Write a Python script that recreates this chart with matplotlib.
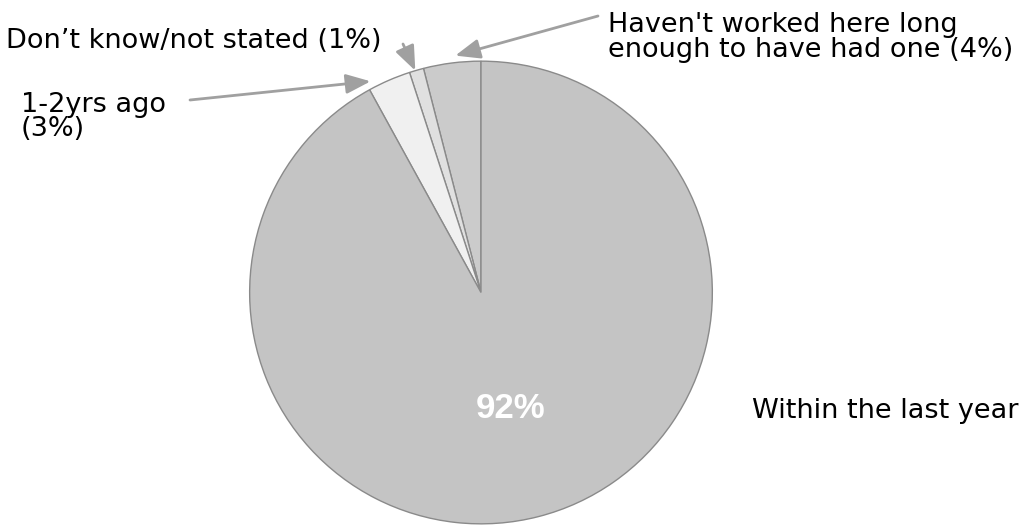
import matplotlib.pyplot as plt
import numpy as np

plt.rcParams['font.family'] = ['DejaVu Sans']

# Data
labels = ["Haven't worked here long\nenough to have had one (4%)",
          "Don\u2019t know/not stated (1%)",
          "1-2yrs ago\n(3%)",
          "Within the last year"]
values = [4, 1, 3, 92]
colors = ['#cbcbcb', '#e0e0e0', '#f0f0f0', '#c4c4c4']

W, H = 1031, 526
fig = plt.figure(figsize=(W / 100, H / 100), dpi=100)
ax = fig.add_axes([247 / W, 1 / H, 468 / W, 465 / H])

wedges, _ = ax.pie(values, colors=colors, startangle=90, counterclock=True,
                   radius=1.0,
                   wedgeprops=dict(edgecolor='#8a8a8a', linewidth=1))
ax.set_xlim(-1.005, 1.005)
ax.set_ylim(-1.005, 1.005)
ax.set_aspect('equal')
ax.axis('off')


def px(x, y):
    # figure pixel position measured from the top-left corner
    return (x / W, 1 - y / H)


fs = 19.5
# va='baseline' on multi-line text anchors the last line
fig.text(*px(608, 57), labels[0], fontsize=fs, va='baseline', ha='left',
         linespacing=0.95)
fig.text(*px(6, 48), labels[1], fontsize=fs, va='baseline', ha='left')
fig.text(*px(21, 136), labels[2], fontsize=fs, va='baseline', ha='left',
         linespacing=0.9)
fig.text(*px(752, 418), labels[3], fontsize=fs, va='baseline', ha='left')

# value label inside the big slice
fig.text(*px(511, 409), f'{values[3]}%', color='white', fontsize=25,
         fontweight='bold', ha='center', va='center', family='Liberation Sans')

# arrows pointing to the small slices
arrow_kw = dict(arrowstyle='-|>,head_length=0.75,head_width=0.3',
                color='#a0a0a0', lw=2, mutation_scale=20,
                shrinkA=0, shrinkB=0)
tips = [(wedges[0], -1.0, 1.03), (wedges[1], 0.3, 1.0), (wedges[2], 4.2, 1.03)]
tails = [(598, 16), (403, 44), (190, 100)]
for (w, off, r), (tx, ty) in zip(tips, tails):
    ang = np.deg2rad((w.theta1 + w.theta2) / 2 + off)
    ax.annotate('', xy=(r * np.cos(ang), r * np.sin(ang)), xycoords='data',
                xytext=(tx, H - ty), textcoords='figure pixels',
                arrowprops=arrow_kw, annotation_clip=False)

fig.savefig('out.png', dpi=100)
